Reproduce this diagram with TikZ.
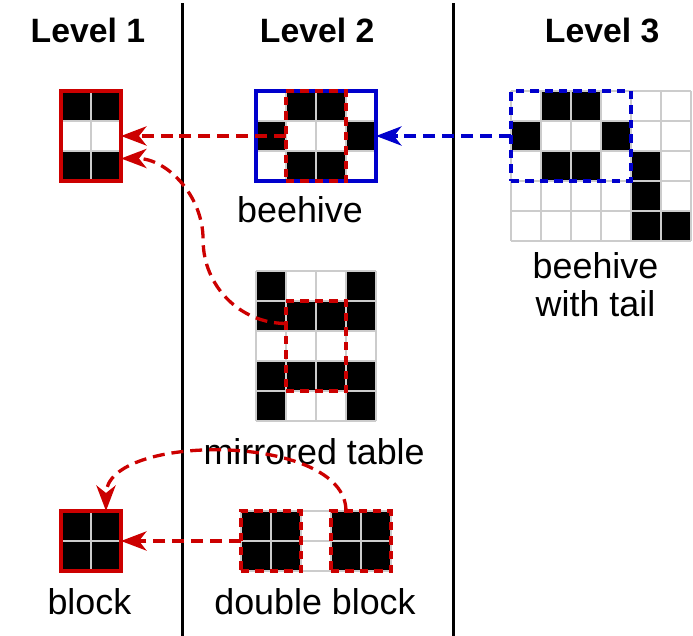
\documentclass[tikz,border=0pt]{standalone}
\usepackage{fontspec}
\setmainfont{Liberation Sans}
\usepackage{xcolor}
\usepackage{tikz}
\usetikzlibrary{arrows.meta,positioning,calc}

\definecolor{cellred}{HTML}{CC0000}
\definecolor{cellblue}{HTML}{0000CC}
\definecolor{cellgrey}{HTML}{CCCCCC}

\tikzset{
	gridline/.style={draw=cellgrey, line width=0.09cm},
	frame/.style={draw, line width=0.115cm, inner sep=0pt, outer sep=0pt},
	dashframe/.style={frame, dash pattern=on 0.28cm off 0.2cm},
	link/.style={line width=0.11cm, dash pattern=on 0.4cm off 0.23cm, -{Stealth[length=0.85cm, width=0.64cm, inset=0.25cm]}},
	lbl/.style={font=\fontsize{34}{36}\selectfont, anchor=base},
	title/.style={lbl, font=\fontsize{32}{35}\selectfont\bfseries},
}

\begin{document}
\begin{tikzpicture}
		\useasboundingbox (0,0) rectangle (23.1,21.2);

		\node[title] (titleone) at (2.93,19.77) {Level 1};
		\node[title] (titletwo) at (10.57,19.77) {Level 2};
		\node[title] (titlethree) at (20.07,19.77) {Level 3};
		\draw[line width=0.1cm] (6.07,0) -- (6.07,21.1);
		\draw[line width=0.1cm] (15.1,0) -- (15.1,21.1);

		% level 1
		\begin{scope}[shift={(2.033,15.167)}]
			\foreach \c/\r in {0/0,1/0,0/2,1/2} \fill (\c,\r) rectangle ++(1,1);
			\draw[gridline] (0,0) grid (2,3);
		\end{scope}
		\node[frame, draw=cellred, minimum width=2cm, minimum height=3cm] (osc) at (3.033,16.667) {};

		\begin{scope}[shift={(2.033,2.167)}]
			\fill (0,0) rectangle (2,2);
			\draw[gridline] (0,0) grid (2,2);
		\end{scope}
		\node[frame, draw=cellred, minimum width=2cm, minimum height=2cm] (block) at (3.033,3.167) {};
		\node[lbl] (blocktext) at (2.98,0.73) {block};

		% level 2
		\begin{scope}[shift={(8.533,15.167)}]
			\foreach \c/\r in {1/2,2/2,0/1,3/1,1/0,2/0} \fill (\c,\r) rectangle ++(1,1);
			\draw[gridline] (0,0) grid (4,3);
		\end{scope}
		\node[frame, draw=cellblue, minimum width=4cm, minimum height=3cm] (hive) at (10.533,16.667) {};
		\node[dashframe, draw=cellred, minimum width=2cm, minimum height=3cm] (hivemid) at (10.533,16.667) {};
		\node[lbl] (hivetext) at (10.0,13.77) {beehive};

		\begin{scope}[shift={(8.533,7.167)}]
			\foreach \c/\r in {0/4,3/4,0/3,1/3,2/3,3/3,0/1,1/1,2/1,3/1,0/0,3/0} \fill (\c,\r) rectangle ++(1,1);
			\draw[gridline] (0,0) grid (4,5);
		\end{scope}
		\node[dashframe, draw=cellred, minimum width=2cm, minimum height=3cm] (tablemid) at (10.533,9.667) {};
		\node[lbl] (tabletext) at (10.47,5.7) {mirrored table};

		\begin{scope}[shift={(8.033,2.167)}]
			\foreach \c in {0,1,3,4} \fill (\c,0) rectangle ++(1,2);
			\draw[gridline] (0,0) grid (5,2);
		\end{scope}
		\node[dashframe, draw=cellred, minimum width=2cm, minimum height=2cm] (dblleft) at (9.033,3.167) {};
		\node[dashframe, draw=cellred, minimum width=2cm, minimum height=2cm] (dblright) at (12.033,3.167) {};
		\node[lbl] (dbltext) at (10.5,0.73) {double block};

		% level 3
		\begin{scope}[shift={(17.033,13.167)}]
			\foreach \c/\r in {1/4,2/4,0/3,3/3,1/2,2/2,4/2,4/1,4/0,5/0} \fill (\c,\r) rectangle ++(1,1);
			\draw[gridline] (0,0) grid (6,5);
		\end{scope}
		\node[dashframe, draw=cellblue, minimum width=4cm, minimum height=3cm] (tailhive) at (19.033,16.667) {};
		\node[lbl, align=center, anchor=center] (tailtext) at (19.85,11.72) {beehive\\with tail};

		% reductions
		\coordinate (bend) at (6.77,13.2);
		\draw[link, cellred] (hivemid.west) -- (osc.east);
		\draw[link, cellblue] (tailhive.west) -- (hive.east);
		\draw[link, cellred] ($(tablemid.north west)!0.25!(tablemid.south west)$) to[out=180, in=270] (bend) to[out=90, in=0] ($(osc.north east)!0.75!(osc.south east)$);
		\draw[link, cellred] (dblleft.west) -- (block.east);
		\draw[link, cellred] ($(dblright.north west)!0.25!(dblright.north east)$) to[out=90, in=90, looseness=0.84] ($(block.north west)!0.75!(block.north east)$);
	\end{tikzpicture}
\end{document}
